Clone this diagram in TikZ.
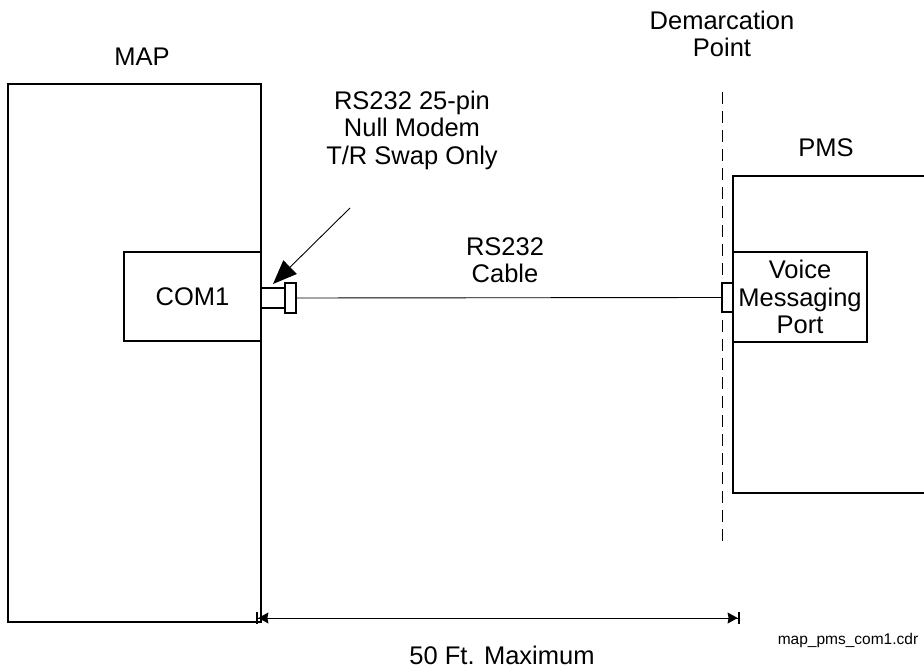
\documentclass[tikz,border=0pt]{standalone}
\usepackage{fontspec}
\setmainfont{Liberation Sans}
\usetikzlibrary{arrows.meta}

\begin{document}
\begin{tikzpicture}[
        x=1pt, y=-1pt,
        box/.style={draw, line width=1.3pt, inner sep=0pt},
        part/.style={draw, line width=1.1pt, fill=white, inner sep=0pt},
        cable/.style={line width=0.9pt},
        label/.style={align=center, font=\fontsize{25.5}{27.5}\selectfont},
        demarc/.style={line width=0.9pt, dash pattern=on 12pt off 7pt},
        callout/.style={line width=0.9pt, -{Triangle[length=24pt,width=19pt]}},
        dimline/.style={line width=0.9pt,
          {Bar[width=12pt,line width=2.4pt]Stealth[length=10pt,width=11pt,inset=1pt]}-{Stealth[length=10pt,width=11pt,inset=1pt]Bar[width=12pt,line width=2.4pt]}}
      ]
        \useasboundingbox (0,0) rectangle (924,668);

% MAP side
        \node[box, minimum width=253pt, minimum height=538pt] (map) at (134.5,353) {};
        \node[box, minimum width=137pt, minimum height=89pt, label] (com1) at (192.5,296.5) {COM1};
        \node[label] (maplbl) at (142,57) {MAP};

% PMS side
        \draw[line width=1.3pt] (924,176) -| (733,493) -- (924,493);
        \node[box, minimum width=134pt, minimum height=90pt, label] (vmport) at (800,297)
          {Voice\\Messaging\\Port};
        \node[label] (pmslbl) at (826,148) {PMS};

% Demarcation point
        \coordinate (demtop) at (722,92);
        \coordinate (dembot) at (722,545);
        \draw[demarc] (demtop) -- (dembot);
        \node[label] (demlbl) at (722,34) {Demarcation\\Point};

% Connectors and cable
        \node[part, minimum width=24pt, minimum height=20pt] (adapter) at (273,298) {};
        \node[part, minimum width=11pt, minimum height=30pt] (plug) at (290.5,298) {};
        \node[part, minimum width=11pt, minimum height=29pt] (jack) at (727.5,297.5) {};
        \draw[cable] (plug.east) -- (jack.west);
        \node[label] (cablelbl) at (505,260) {RS232\\Cable};

% Null modem callout
        \node[label] (nulllbl) at (412,130) {RS232 25-pin\\Null Modem\\T/R Swap Only};
        \coordinate (callstart) at (350,208);
        \coordinate (calltip) at (273,284);
        \draw[callout] (callstart) -- (calltip);

% Cable length
        \coordinate (dimL) at (256,618);
        \coordinate (dimR) at (740,618);
        \draw[dimline] (dimL) -- (dimR);
        \node[label] (dimlbl) at (502,655) {50 Ft. Maximum};

        \node[font=\fontsize{15.5}{18}\selectfont] (file) at (848,640) {map\_pms\_com1.cdr};

      \end{tikzpicture}
\end{document}
